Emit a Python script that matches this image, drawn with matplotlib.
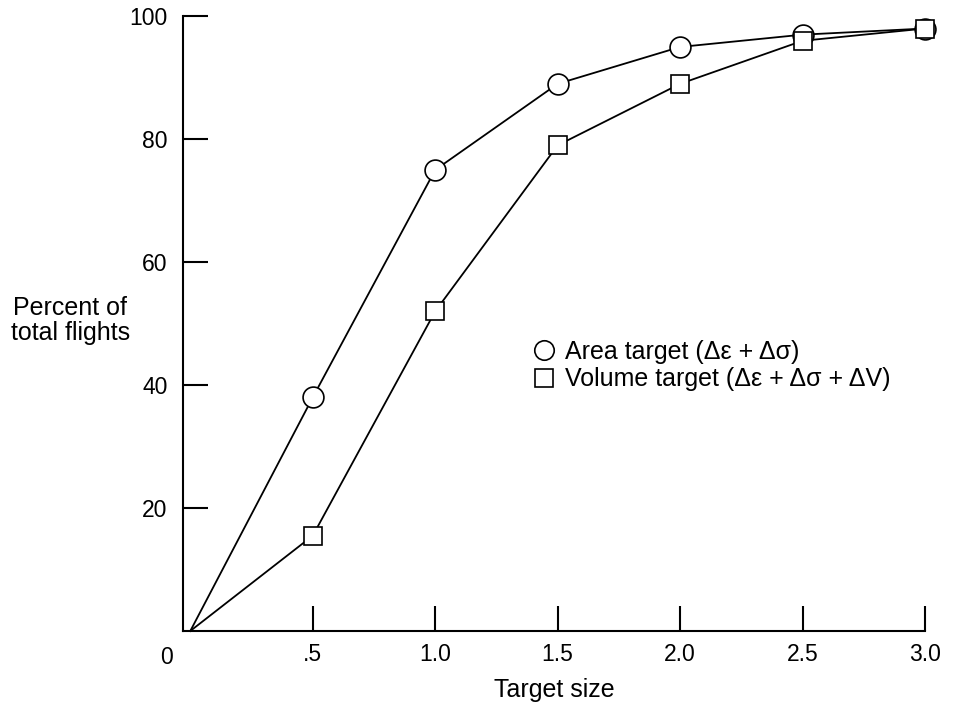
import matplotlib.pyplot as plt
from matplotlib.lines import Line2D

plt.rcParams['font.family'] = ['Liberation Sans', 'DejaVu Sans']

# target size and percent of flights inside the target
target_size = [0.0, 0.5, 1.0, 1.5, 2.0, 2.5, 3.0]
area_pct = [0, 38, 75, 89, 95, 97, 98]
volume_pct = [0, 15.5, 52, 79, 89, 96, 98]

x_ticks = [0.5, 1.0, 1.5, 2.0, 2.5, 3.0]
x_labels = ['.5', '1.0', '1.5', '2.0', '2.5', '3.0']
y_ticks = [20, 40, 60, 80, 100]

tick_fs = 16.5
text_fs = 18

fig = plt.figure(figsize=(9.63, 7.05), dpi=100)
ax = fig.add_axes([0.19, 0.105, 0.7705, 0.872])

# lines first, markers on top with white fill
ax.plot(target_size, area_pct, color='black', lw=1.3, zorder=2, clip_on=False)
ax.plot(target_size, volume_pct, color='black', lw=1.3, zorder=2, clip_on=False)
ax.plot(target_size[1:], area_pct[1:], 'o', ms=15, mfc='white', mec='black',
        mew=1.2, ls='none', zorder=3, clip_on=False)
ax.plot(target_size[1:], volume_pct[1:], 's', ms=13.5, mfc='white', mec='black',
        mew=1.2, ls='none', zorder=4, clip_on=False)

ax.set_xlim(-0.03, 3.0)
ax.set_ylim(0, 100)
ax.spines['top'].set_visible(False)
ax.spines['right'].set_visible(False)
ax.spines['left'].set_linewidth(1.5)
ax.spines['bottom'].set_linewidth(1.5)

ax.set_xticks(x_ticks)
ax.set_xticklabels(x_labels)
ax.set_yticks(y_ticks)
ax.tick_params(direction='in', length=18, width=1.5, labelsize=tick_fs)
ax.tick_params(axis='y', pad=11)
ax.tick_params(axis='x', pad=9)

# shared zero at the origin
ax.text(-0.07, -2.5, '0', ha='right', va='top', fontsize=tick_fs, transform=ax.transData)

ax.set_xlabel('Target size', fontsize=text_fs, labelpad=8)
fig.text(0.073, 0.546, 'Percent of\ntotal flights', ha='center', va='center',
         fontsize=text_fs, linespacing=1.05)

handles = [
    Line2D([], [], marker='o', ls='none', ms=14, mfc='white', mec='black', mew=1.2),
    Line2D([], [], marker='s', ls='none', ms=13, mfc='white', mec='black', mew=1.2),
]
ax.legend(handles, ['Area target (\u0394\u03b5 + \u0394\u03c3)',
                    'Volume target (\u0394\u03b5 + \u0394\u03c3 + \u0394V)'],
          loc='upper left', bbox_to_anchor=(0.468, 0.474), frameon=False,
          fontsize=text_fs, handletextpad=0.3, labelspacing=0.15,
          handlelength=1.1, borderaxespad=0, borderpad=0)

fig.savefig('out.png', dpi=100)
